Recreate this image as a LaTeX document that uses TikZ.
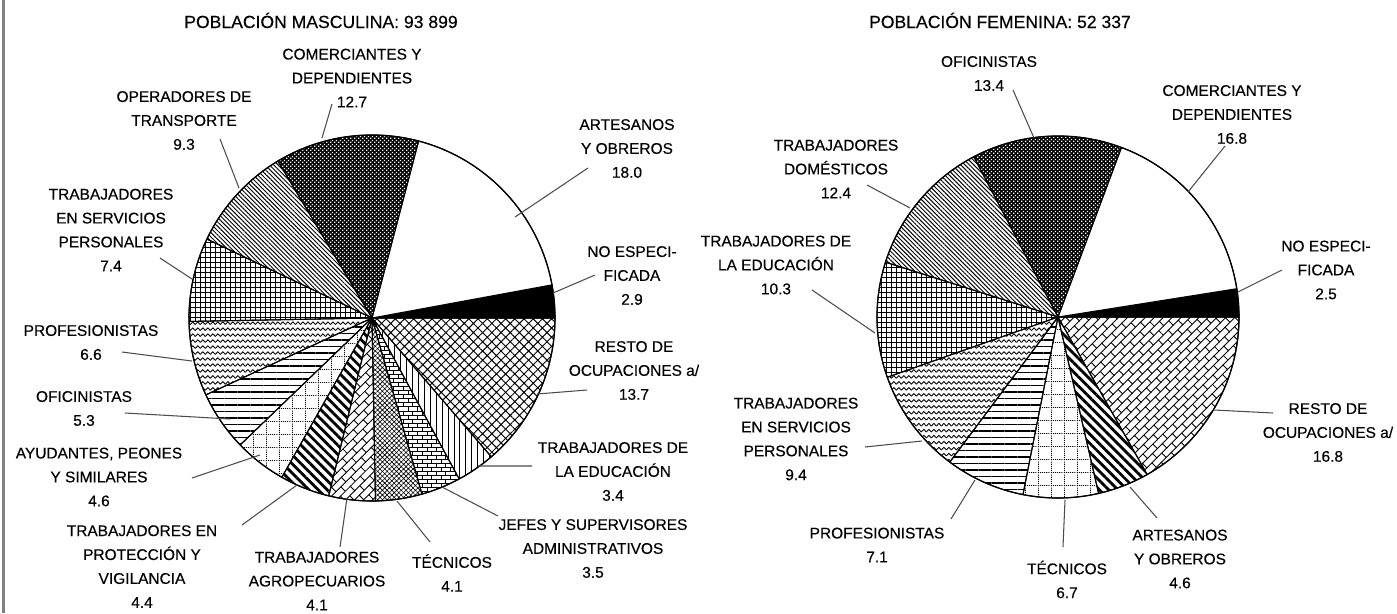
\documentclass[tikz,border=0pt]{standalone}
\usepackage{fontspec}
\setmainfont{Liberation Sans}[FakeBold=0.35]
\usepackage{tikz}
\usetikzlibrary{patterns,patterns.meta}
\usepackage{xcolor}
\definecolor{framegray}{RGB}{128,128,128}

% fill patterns of the slices
\tikzdeclarepattern{
  name=dotsdark,
  type=uncolored,
  bottom left={(0pt,0pt)},
  top right={(2.4pt,2.4pt)},
  tile size={(2.4pt,2.4pt)},
  code={
    \fill (0pt,0pt) rectangle (0.95pt,0.95pt);
    \fill (1.2pt,1.2pt) rectangle (2.15pt,2.15pt);
  }
}
\tikzdeclarepattern{
  name=zigzag,
  type=uncolored,
  bottom left={(-0.5pt,-0.5pt)},
  top right={(3.35pt,3.9pt)},
  tile size={(2.85pt,3.4pt)},
  code={
    \draw[line width=0.5pt] (0pt,1pt) -- (1.425pt,2.5pt) -- (2.85pt,1pt);
  }
}
\tikzdeclarepattern{
  name=dotgrid,
  type=uncolored,
  bottom left={(0pt,0pt)},
  top right={(7.2pt,7.2pt)},
  tile size={(7.2pt,7.2pt)},
  code={
    \draw[line width=0.45pt, dash pattern=on 0.6pt off 0.6pt]
      (0pt,0.3pt) -- (7.2pt,0.3pt) (0.3pt,0pt) -- (0.3pt,7.2pt);
  }
}
\tikzdeclarepattern{
  name=brickflat,
  type=uncolored,
  bottom left={(-0.4pt,-0.4pt)},
  top right={(5.8pt,5pt)},
  tile size={(5.4pt,4.6pt)},
  code={
    \draw[line width=0.5pt] (-0.4pt,0pt) -- (5.8pt,0pt) (-0.4pt,2.3pt) -- (5.8pt,2.3pt)
      (0pt,0pt) -- (0pt,2.3pt) (2.7pt,2.3pt) -- (2.7pt,4.6pt);
  }
}
\tikzdeclarepattern{
  name=brickslant,
  type=uncolored,
  bottom left={(-0.4pt,-0.4pt)},
  top right={(8.4pt,7.6pt)},
  tile size={(8pt,7.2pt)},
  tile transformation={rotate=45},
  code={
    \draw[line width=0.5pt] (-0.4pt,0pt) -- (8.4pt,0pt) (-0.4pt,3.6pt) -- (8.4pt,3.6pt)
      (0pt,0pt) -- (0pt,3.6pt) (4pt,3.6pt) -- (4pt,7.2pt);
  }
}

\begin{document}
\begin{tikzpicture}[x=0.02cm, y=0.02cm,
    slice/.style={draw=black, line width=0.6pt, line join=round},
    sblack/.style={slice, fill=black},
    swhite/.style={slice, fill=white},
    sdark/.style={slice, preaction={fill=black}, pattern=dotsdark, pattern color=white},
    sdiag/.style={slice, pattern={Lines[angle=-45,distance=1.75pt,line width=0.55pt]}},
    sgrid/.style={slice, pattern={Hatch[angle=0,distance=2.85pt,line width=0.65pt]}},
    swave/.style={slice, pattern=zigzag},
    shoriz/.style={slice, pattern={Lines[angle=0,distance=3.7pt,line width=0.8pt]}},
    sdotted/.style={slice, pattern=dotgrid},
    sheavy/.style={slice, pattern={Lines[angle=-45,distance=3.7pt,line width=1.6pt]}},
    sbrickd/.style={slice, pattern=brickslant},
    sweave/.style={slice, pattern={Hatch[angle=45,distance=1.9pt,line width=0.35pt]}},
    sbrickh/.style={slice, pattern=brickflat},
    svert/.style={slice, pattern={Lines[angle=90,distance=3.4pt,line width=0.55pt]}},
    sdiamond/.style={slice, pattern={Hatch[angle=45,distance=3.7pt,line width=0.55pt]}},
    rim/.style={draw=black, line width=0.7pt},
    leader/.style={draw=black!70, line width=0.6pt},
    lbl/.style={font=\fontsize{8.8}{13.6}\selectfont, align=center, inner sep=0pt},
    ttl/.style={font=\fontsize{10}{12}\selectfont, inner sep=0pt, anchor=base}]

    \useasboundingbox (0,0) rectangle (1397,-613);
    % grey frame edge on the left
    \fill[framegray] (2,0) rectangle (5,-613);

    % Titles
    \node[ttl] (mtitle) at (321,-28) {POBLACIÓN MASCULINA: 93 899};
    \node[ttl] (ftitle) at (1000,-28) {POBLACIÓN FEMENINA: 52 337};

    % Left pie: slices counterclockwise from the east
    \coordinate (mc) at (372,-318);
    \draw[sblack]   (mc) -- ++(0:183) arc[start angle=0,end angle=10.44,radius=183] -- cycle;
    \draw[swhite]   (mc) -- ++(10.44:183) arc[start angle=10.44,end angle=75.24,radius=183] -- cycle;
    \draw[sdark]    (mc) -- ++(75.24:183) arc[start angle=75.24,end angle=120.96,radius=183] -- cycle;
    \draw[sdiag]    (mc) -- ++(120.96:183) arc[start angle=120.96,end angle=154.44,radius=183] -- cycle;
    \draw[sgrid]    (mc) -- ++(154.44:183) arc[start angle=154.44,end angle=181.08,radius=183] -- cycle;
    \draw[swave]    (mc) -- ++(181.08:183) arc[start angle=181.08,end angle=204.84,radius=183] -- cycle;
    \draw[shoriz]   (mc) -- ++(204.84:183) arc[start angle=204.84,end angle=223.92,radius=183] -- cycle;
    \draw[sdotted]  (mc) -- ++(223.92:183) arc[start angle=223.92,end angle=240.48,radius=183] -- cycle;
    \draw[sheavy]   (mc) -- ++(240.48:183) arc[start angle=240.48,end angle=256.32,radius=183] -- cycle;
    \draw[sbrickd]  (mc) -- ++(256.32:183) arc[start angle=256.32,end angle=271.08,radius=183] -- cycle;
    \draw[sweave]   (mc) -- ++(271.08:183) arc[start angle=271.08,end angle=285.84,radius=183] -- cycle;
    \draw[sbrickh]  (mc) -- ++(285.84:183) arc[start angle=285.84,end angle=298.44,radius=183] -- cycle;
    \draw[svert]    (mc) -- ++(298.44:183) arc[start angle=298.44,end angle=310.68,radius=183] -- cycle;
    \draw[sdiamond] (mc) -- ++(310.68:183) arc[start angle=310.68,end angle=360,radius=183] -- cycle;
    \draw[rim] (mc) circle[radius=183];

    % Left pie: labels
    \node[lbl] (mcom) at (352,-78) {COMERCIANTES Y\\DEPENDIENTES\\12.7};
    \node[lbl] (mope) at (184,-120.5) {OPERADORES DE\\TRANSPORTE\\9.3};
    \node[lbl] (mser) at (111,-230) {TRABAJADORES\\EN SERVICIOS\\PERSONALES\\7.4};
    \node[lbl] (mpro) at (91,-342.5) {PROFESIONISTAS\\6.6};
    \node[lbl] (mofi) at (84,-408.5) {OFICINISTAS\\5.3};
    \node[lbl] (mayu) at (99,-477) {AYUDANTES, PEONES\\Y SIMILARES\\4.6};
    \node[lbl] (mprt) at (142,-566.5) {TRABAJADORES EN\\PROTECCIÓN Y\\VIGILANCIA\\4.4};
    \node[lbl] (magr) at (317,-581) {TRABAJADORES\\AGROPECUARIOS\\4.1};
    \node[lbl] (mtec) at (452,-573) {TÉCNICOS\\4.1};
    \node[lbl] (mjef) at (593,-548.5) {JEFES Y SUPERVISORES\\ADMINISTRATIVOS\\3.5};
    \node[lbl] (medu) at (613,-471.5) {TRABAJADORES DE\\LA EDUCACIÓN\\3.4};
    \node[lbl] (mres) at (634,-370.5) {RESTO DE\\OCUPACIONES a/\\13.7};
    \node[lbl] (mnoe) at (632,-275.5) {NO ESPECI-\\FICADA\\2.9};
    \node[lbl] (mart) at (627,-148.5) {ARTESANOS\\Y OBREROS\\18.0};

    % Left pie: leader ends
    \coordinate (mcom1) at (332,-104);  \coordinate (mcom2) at (322,-138);
    \coordinate (mope1) at (220,-139);  \coordinate (mope2) at (239,-188);
    \coordinate (mser1) at (160,-258);  \coordinate (mser2) at (192,-279);
    \coordinate (mpro1) at (122,-352);  \coordinate (mpro2) at (192,-361);
    \coordinate (mofi1) at (125,-413);  \coordinate (mofi2) at (230,-419);
    \coordinate (mayu1) at (192,-478);  \coordinate (mayu2) at (260,-455);
    \coordinate (mprt1) at (242,-525);  \coordinate (mprt2) at (297,-485);
    \coordinate (magr1) at (340,-547);  \coordinate (magr2) at (347,-498);
    \coordinate (mtec1) at (430,-542);  \coordinate (mtec2) at (397,-501);
    \coordinate (mjef1) at (498,-516);  \coordinate (mjef2) at (442,-487);
    \coordinate (medu1) at (532,-466);  \coordinate (medu2) at (478,-466);
    \coordinate (mres1) at (587,-390);  \coordinate (mres2) at (537,-394);
    \coordinate (mnoe1) at (595,-275);  \coordinate (mnoe2) at (553,-293);
    \coordinate (mart1) at (588,-168);  \coordinate (mart2) at (515,-217);
    \draw[leader] (mcom1) -- (mcom2) (mope1) -- (mope2) (mser1) -- (mser2)
        (mpro1) -- (mpro2) (mofi1) -- (mofi2) (mayu1) -- (mayu2)
        (mprt1) -- (mprt2) (magr1) -- (magr2) (mtec1) -- (mtec2)
        (mjef1) -- (mjef2) (medu1) -- (medu2) (mres1) -- (mres2)
        (mnoe1) -- (mnoe2) (mart1) -- (mart2);

    % Right pie: slices counterclockwise from the east
    \coordinate (fc) at (1058,-317);
    \draw[sblack]   (fc) -- ++(0:181) arc[start angle=0,end angle=9,radius=181] -- cycle;
    \draw[swhite]   (fc) -- ++(9:181) arc[start angle=9,end angle=69.48,radius=181] -- cycle;
    \draw[sdark]    (fc) -- ++(69.48:181) arc[start angle=69.48,end angle=117.72,radius=181] -- cycle;
    \draw[sdiag]    (fc) -- ++(117.72:181) arc[start angle=117.72,end angle=162.36,radius=181] -- cycle;
    \draw[sgrid]    (fc) -- ++(162.36:181) arc[start angle=162.36,end angle=199.44,radius=181] -- cycle;
    \draw[swave]    (fc) -- ++(199.44:181) arc[start angle=199.44,end angle=233.28,radius=181] -- cycle;
    \draw[shoriz]   (fc) -- ++(233.28:181) arc[start angle=233.28,end angle=258.84,radius=181] -- cycle;
    \draw[sdotted]  (fc) -- ++(258.84:181) arc[start angle=258.84,end angle=282.96,radius=181] -- cycle;
    \draw[sheavy]   (fc) -- ++(282.96:181) arc[start angle=282.96,end angle=299.52,radius=181] -- cycle;
    \draw[sbrickd]  (fc) -- ++(299.52:181) arc[start angle=299.52,end angle=360,radius=181] -- cycle;
    \draw[rim] (fc) circle[radius=181];

    % Right pie: labels
    \node[lbl] (fofi) at (989,-73.5) {OFICINISTAS\\13.4};
    \node[lbl] (fdom) at (836,-169) {TRABAJADORES\\DOMÉSTICOS\\12.4};
    \node[lbl] (fedu) at (776,-265) {TRABAJADORES DE\\LA EDUCACIÓN\\10.3};
    \node[lbl] (fser) at (796,-439) {TRABAJADORES\\EN SERVICIOS\\PERSONALES\\9.4};
    \node[lbl] (fpro) at (877,-545) {PROFESIONISTAS\\7.1};
    \node[lbl] (ftec) at (1067,-579.5) {TÉCNICOS\\6.7};
    \node[lbl] (fart) at (1180,-559) {ARTESANOS\\Y OBREROS\\4.6};
    \node[lbl] (fres) at (1328,-432.5) {RESTO DE\\OCUPACIONES a/\\16.8};
    \node[lbl] (fnoe) at (1326,-270) {NO ESPECI-\\FICADA\\2.5};
    \node[lbl] (fcom) at (1232,-114.5) {COMERCIANTES Y\\DEPENDIENTES\\16.8};

    % Right pie: leader ends
    \coordinate (fofi1) at (1013,-90);   \coordinate (fofi2) at (1034,-138);
    \coordinate (fdom1) at (867,-185);   \coordinate (fdom2) at (910,-208);
    \coordinate (fedu1) at (812,-290);   \coordinate (fedu2) at (875,-333);
    \coordinate (fser1) at (865,-447);   \coordinate (fser2) at (922,-441);
    \coordinate (fpro1) at (951,-519);   \coordinate (fpro2) at (975,-480);
    \coordinate (ftec1) at (1063,-547);  \coordinate (ftec2) at (1065,-500);
    \coordinate (fart1) at (1157,-518);  \coordinate (fart2) at (1130,-487);
    \coordinate (fres1) at (1273,-413);  \coordinate (fres2) at (1214,-410);
    \coordinate (fnoe1) at (1282,-270);  \coordinate (fnoe2) at (1238,-292);
    \coordinate (fcom1) at (1225,-146);  \coordinate (fcom2) at (1188,-192);
    \draw[leader] (fofi1) -- (fofi2) (fdom1) -- (fdom2) (fedu1) -- (fedu2)
        (fser1) -- (fser2) (fpro1) -- (fpro2) (ftec1) -- (ftec2)
        (fart1) -- (fart2) (fres1) -- (fres2) (fnoe1) -- (fnoe2)
        (fcom1) -- (fcom2);
\end{tikzpicture}
\end{document}
